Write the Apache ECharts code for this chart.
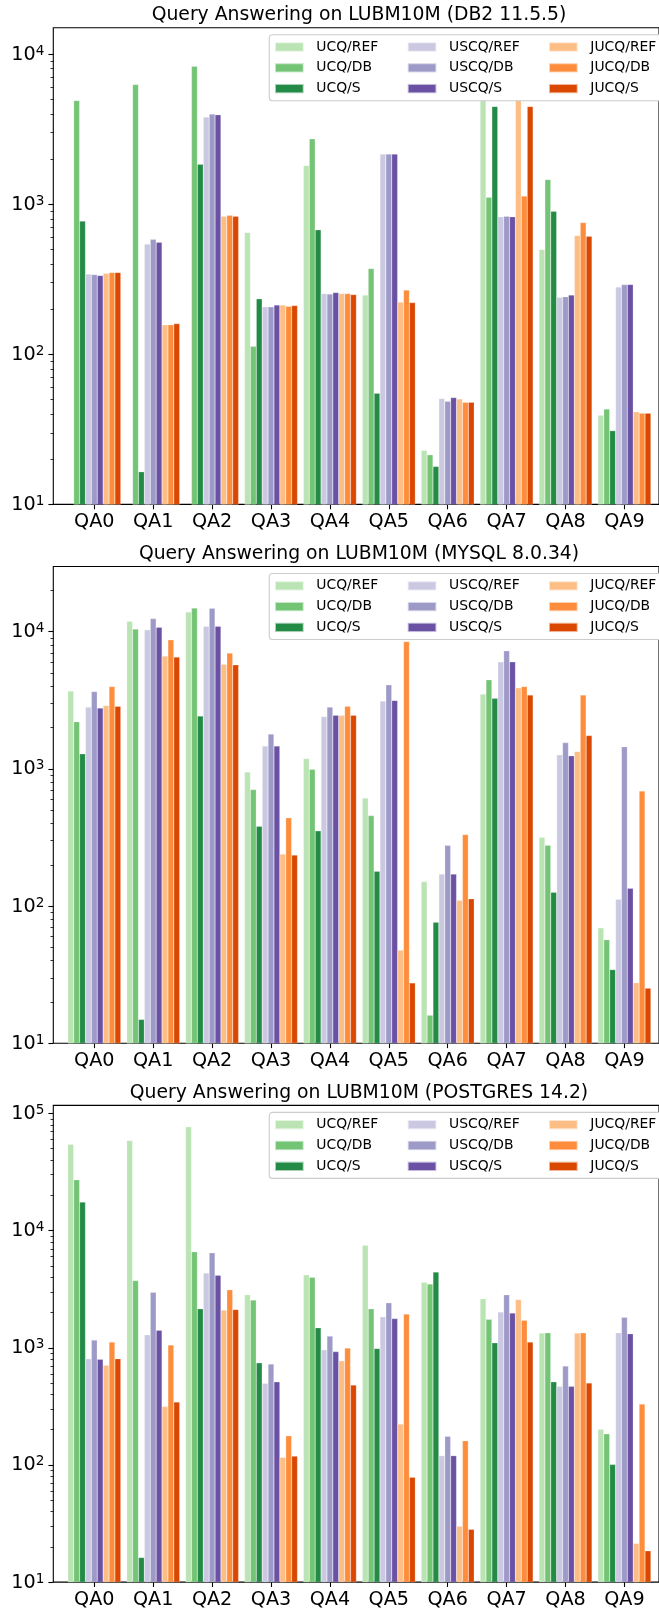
<!DOCTYPE html>
<html><head><meta charset="utf-8">
<script src="https://cdn.jsdelivr.net/npm/echarts@6/dist/echarts.min.js"></script>
<style>html,body{margin:0;padding:0;background:#fff}#c{width:659px;height:1612px}</style>
</head><body><div id="c"></div>
<script>
// ---------- data ----------
const categories = ['QA0','QA1','QA2','QA3','QA4','QA5','QA6','QA7','QA8','QA9'];
const seriesNames = ['UCQ/REF','UCQ/DB','UCQ/S','USCQ/REF','USCQ/DB','USCQ/S','JUCQ/REF','JUCQ/DB','JUCQ/S'];
const seriesColors = ['#bae4b3','#74c476','#238b45','#cbc9e2','#9e9ac8','#6a51a3','#fdbe85','#fd8d3c','#d94701'];
const panelTitles = ['Query Answering on LUBM10M (DB2 11.5.5)','Query Answering on LUBM10M (MYSQL 8.0.34)','Query Answering on LUBM10M (POSTGRES 14.2)'];
const yMin = 10;
const panelYMax = [15000, 29900, 117200];
const majorTickValues = [[10,100,1000,10000],[10,100,1000,10000],[10,100,1000,10000,100000]];

// DB2 11.5.5
const db2UcqRef   = [null, null, null, 647, 1807, 248, 22.9, 7000, 499, 39.3];
const db2UcqDb    = [4914, 6270, 8300, 113, 2723, 373, 21.4, 1114, 1459, 43.2];
const db2UcqS     = [771, 16.5, 1845, 234, 675, 55, 17.9, 4480, 898, 31];
const db2UscqRef  = [342, 542, 3810, 207, 254, 2155, 50.7, 826, 240, 281];
const db2UscqDb   = [340, 583, 3990, 207, 252, 2155, 48.6, 830, 242, 292];
const db2UscqS    = [335, 557, 3950, 213, 258, 2155, 51.5, 826, 248, 292];
const db2JucqRef  = [347, 157, 830, 213, 254, 223, 50.4, 6500, 618, 41.4];
const db2JucqDb   = [351, 157, 843, 209, 254, 268, 47.9, 1132, 755, 40.5];
const db2JucqS    = [351, 160, 830, 211, 250, 221, 47.9, 4480, 612, 40.5];

// MYSQL 8.0.34
const mysqlUcqRef  = [3700, 11900, 13900, 948, 1189, 612, 151, 3516, 317, 69.3];
const mysqlUcqDb   = [2208, 10450, 14870, 706, 993, 456, 16.0, 4465, 277, 56.8];
const mysqlUcqS    = [1288, 14.9, 2432, 382, 353, 179, 76.2, 3265, 126, 34.4];
const mysqlUscqRef = [2819, 10330, 10940, 1470, 2404, 3120, 171, 6030, 1267, 112];
const mysqlUscqDb  = [3657, 12470, 14800, 1792, 2819, 4100, 277, 7270, 1553, 1452];
const mysqlUscqS   = [2775, 10770, 10940, 1470, 2460, 3155, 171, 6030, 1245, 134.5];
const mysqlJucqRef = [2896, 6640, 5800, 239, 2460, 47.7, 110, 3900, 1339, 27.6];
const mysqlJucqDb  = [3983, 8730, 6990, 440, 2865, 8470, 332, 3983, 3460, 690];
const mysqlJucqS   = [2860, 6530, 5730, 235, 2460, 27.5, 113, 3460, 1750, 25.2];

// POSTGRES 14.2
const pgUcqRef  = [54500, 58700, 76900, 2838, 4188, 7480, 3622, 2613, 1336, 201];
const pgUcqDb   = [27200, 3750, 6610, 2559, 3990, 2155, 3500, 1750, 1345, 184];
const pgUcqS    = [17500, 16.2, 2155, 743, 1483, 986, 4428, 1102, 512, 101];
const pgUscqRef = [807, 1291, 4335, 498, 959, 1837, 120, 2023, 468, 1345];
const pgUscqDb  = [1164, 2978, 6470, 728, 1257, 2420, 176, 2838, 698, 1824];
const pgUscqS   = [796, 1413, 4155, 512, 927, 1775, 120, 1981, 468, 1318];
const pgJucqRef = [708, 315, 2095, 116, 774, 223, 30, 2576, 1336, 21.4];
const pgJucqDb  = [1117, 1057, 3127, 177, 994, 1941, 161, 1715, 1345, 331];
const pgJucqS   = [807, 345, 2120, 119, 481, 78.5, 28.2, 1117, 501, 18.5];

const panelData = [
  [db2UcqRef, db2UcqDb, db2UcqS, db2UscqRef, db2UscqDb, db2UscqS, db2JucqRef, db2JucqDb, db2JucqS],
  [mysqlUcqRef, mysqlUcqDb, mysqlUcqS, mysqlUscqRef, mysqlUscqDb, mysqlUscqS, mysqlJucqRef, mysqlJucqDb, mysqlJucqS],
  [pgUcqRef, pgUcqDb, pgUcqS, pgUscqRef, pgUscqDb, pgUscqS, pgJucqRef, pgJucqDb, pgJucqS]
];

// ---------- layout ----------
const FONT = 'DejaVu Sans';
const panelTop = [27.7, 566.5, 1105.4];
const panelH = 476.7;
const frameLeft = 53.3, frameW = 611.4;
const barLeft = 64.85, barAreaW = 589;
const barW = 5.89;
const legendGap = 0.8;
const legendColTextW = [97.2, 105.8, 73];

function minorTicks(maxV) {
  const out = [];
  for (let e = 1; Math.pow(10, e) <= maxV; e++) {
    for (let m = 2; m <= 9; m++) {
      const v = m * Math.pow(10, e);
      if (v <= maxV) out.push(v);
    }
  }
  return out;
}

const legendRich = { sp: { width: 7.6, height: 20, lineHeight: 20, fontSize: 13.9, fontFamily: FONT } };
legendColTextW.forEach((w, c) => {
  legendRich['c' + c] = { width: w - 7.6, height: 20, lineHeight: 20, fontSize: 13.9, fontFamily: FONT, color: '#000' };
});

const grid = [], xAxis = [], yAxis = [], series = [], title = [], legend = [];

panelTitles.forEach((t, p) => {
  const T = panelTop[p];
  title.push({
    text: t, left: 359, top: T - 12.4, textAlign: 'center', textVerticalAlign: 'middle', padding: 0,
    textStyle: { fontFamily: FONT, fontSize: 18.8, fontWeight: 'normal', color: '#000' }
  });
  // frame grid (draws the spines)
  grid.push({ left: frameLeft, top: T, width: frameW, height: panelH, show: true,
    borderColor: '#000', borderWidth: 1.1, backgroundColor: 'transparent' });
  // bar grid
  grid.push({ left: barLeft, top: T, width: barAreaW, height: panelH });

  xAxis.push({ type: 'value', gridIndex: 2 * p, min: 0, max: 1, show: false });
  xAxis.push({
    type: 'category', gridIndex: 2 * p + 1, data: categories,
    axisLine: { show: false },
    axisTick: { show: true, alignWithLabel: true, length: 4.9, lineStyle: { color: '#000', width: 1.1 } },
    axisLabel: { fontFamily: FONT, fontSize: 19.2, color: '#000', margin: 8, lineHeight: 19.4 },
    splitLine: { show: false }
  });

  const ymax = panelYMax[p];
  yAxis.push({
    type: 'log', logBase: 10, gridIndex: 2 * p, position: 'left', min: yMin, max: ymax,
    axisLine: { show: false },
    axisTick: { show: true, length: 4.9, lineStyle: { color: '#000', width: 1.1 }, customValues: majorTickValues[p] },
    axisLabel: {
      customValues: majorTickValues[p], margin: 9,
      formatter: v => '{b|10}{s|' + Math.round(Math.log10(v)) + '}',
      rich: {
        b: { fontFamily: FONT, fontSize: 19.2, color: '#000', lineHeight: 20, verticalAlign: 'bottom' },
        s: { fontFamily: FONT, fontSize: 13.6, color: '#000', lineHeight: 20, verticalAlign: 'top' }
      }
    },
    splitLine: { show: false }
  });
  yAxis.push({
    type: 'log', logBase: 10, gridIndex: 2 * p, position: 'left', offset: 0, min: yMin, max: ymax,
    axisLine: { show: false }, axisLabel: { show: false }, splitLine: { show: false },
    axisTick: { show: true, length: 2.8, lineStyle: { color: '#000', width: 0.8 }, customValues: minorTicks(ymax) }
  });
  yAxis.push({ type: 'log', logBase: 10, gridIndex: 2 * p + 1, position: 'left', min: yMin, max: ymax, show: false });

  seriesNames.forEach((name, s) => {
    series.push({
      name: name, type: 'bar', xAxisIndex: 2 * p + 1, yAxisIndex: 3 * p + 2,
      barWidth: barW, barGap: '0%', data: panelData[p][s],
      itemStyle: { color: seriesColors[s], borderColor: 'rgba(255,255,255,0.6)', borderWidth: 0.4 },
      emphasis: { disabled: true }, animation: false
    });
  });

  // one legend per panel, vertical, wrapping into 3 columns
  legend.push({
    orient: 'vertical', left: 269.3, top: T + 7, height: 70,
    padding: [2.3, 4.6, 2.1, 4.7], itemGap: legendGap,
    itemWidth: 28.7, itemHeight: 9.3, icon: 'rect', selectedMode: false, z: 60,
    backgroundColor: '#ffffff', borderColor: '#cccccc', borderWidth: 1.1, borderRadius: 3,
    data: seriesNames,
    formatter: name => '{sp| }{c' + Math.floor(seriesNames.indexOf(name) / 3) + '|' + name + '}',
    textStyle: { fontFamily: FONT, fontSize: 13.9, color: '#000', lineHeight: 20, rich: legendRich }
  });
});

const chart = echarts.init(document.getElementById('c'), null, { renderer: 'canvas' });
chart.setOption({
  animation: false, backgroundColor: '#fff',
  title, grid, xAxis, yAxis, series, legend
});
</script></body></html>
